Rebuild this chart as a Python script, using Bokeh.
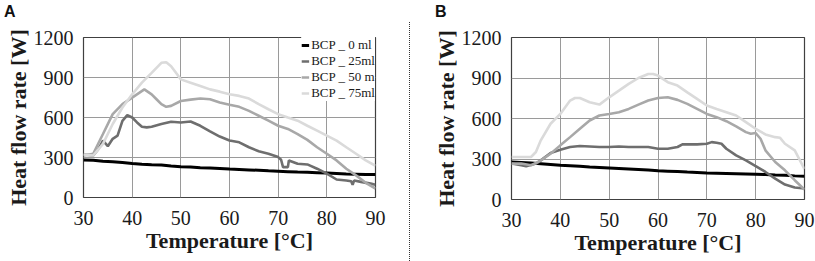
from bokeh.plotting import figure
from bokeh.layouts import row, column
from bokeh.models import Legend, LegendItem, FixedTicker, Div
from bokeh.embed import file_html
from bokeh.resources import INLINE

# ---------------- data ----------------
series_names = ["BCP _ 0 ml", "BCP _ 25ml", "BCP _ 50 m", "BCP _ 75ml"]
series_colors = ["#000000", "#6e6e6e", "#a8a8a8", "#dadada"]

# Panel A
a0_t = [30, 32, 34, 36, 38, 40, 42, 44, 46, 48, 50, 52, 54, 56, 58, 60, 62, 64, 66, 68, 70, 72, 74, 76, 78, 80, 82, 84, 86, 88, 90]
a0_w = [282, 280, 272, 268, 262, 255, 250, 246, 243, 236, 231, 228, 224, 221, 217, 213, 210, 207, 204, 200, 197, 194, 191, 189, 186, 183, 180, 177, 175, 172, 172]

a25_t = [30, 32, 33, 34, 35, 36, 37, 38, 39, 40, 41, 42, 43, 44, 46, 48, 50, 52, 54, 56, 58, 60, 62, 64, 66, 68, 70, 70.6, 71, 72, 72.2, 74, 76, 78, 80, 82, 84, 85, 85.3, 85.6, 87, 89, 90]
a25_w = [322, 315, 360, 427, 385, 440, 464, 575, 618, 600, 563, 531, 526, 531, 551, 568, 563, 570, 538, 496, 457, 427, 414, 377, 347, 328, 303, 283, 228, 228, 278, 253, 248, 216, 179, 135, 128, 122, 95, 127, 117, 104, 95]

a50_t = [30, 32, 34, 36, 38, 40, 42.5, 44, 45, 46, 47, 48, 50, 52, 54, 56, 58, 60, 62, 64, 66, 68, 70, 72, 74, 76, 78, 80, 82, 84, 86, 88, 90]
a50_w = [315, 328, 476, 625, 700, 749, 811, 774, 737, 700, 680, 687, 724, 734, 742, 737, 712, 695, 680, 650, 613, 576, 538, 514, 476, 432, 377, 328, 278, 216, 166, 110, 67]

a75_t = [30, 32, 34, 36, 38, 40, 42, 44, 46, 47, 48, 49, 50, 52, 54, 56, 58, 60, 62, 64, 66, 68, 70, 72, 74, 76, 78, 80, 82, 84, 86, 88, 90]
a75_w = [322, 315, 402, 551, 675, 774, 861, 935, 1010, 1015, 985, 935, 886, 861, 836, 811, 794, 774, 762, 742, 700, 662, 625, 600, 576, 538, 501, 464, 427, 377, 328, 278, 238]

# Panel B
b0_t = [30, 32, 34, 36, 38, 40, 42, 44, 46, 48, 50, 52, 54, 56, 58, 60, 62, 64, 66, 68, 70, 72, 74, 76, 78, 80, 82, 84, 86, 88, 90]
b0_w = [278, 275, 270, 265, 260, 253, 250, 246, 240, 237, 234, 230, 226, 222, 218, 213, 210, 207, 203, 200, 197, 195, 193, 191, 189, 187, 185, 182, 180, 175, 172]

b25_t = [30, 32, 33, 35, 36, 38, 40, 42, 44, 46, 48, 50, 52, 54, 56, 58, 60, 62, 64, 65, 68, 70, 71, 72, 73, 74, 76, 78, 80, 82, 84, 86, 88, 90]
b25_w = [266, 253, 246, 266, 290, 344, 369, 389, 396, 393, 389, 389, 393, 389, 389, 389, 376, 376, 389, 408, 408, 413, 425, 420, 413, 376, 327, 290, 248, 204, 155, 111, 89, 81]

b50_t = [30, 32, 34, 35, 36, 38, 40, 42, 44, 46, 48, 50, 52, 54, 56, 58, 60, 62, 64, 66, 68, 70, 72, 74, 76, 78, 79, 80, 81, 82, 84, 86, 88, 90]
b50_w = [266, 266, 253, 270, 290, 339, 401, 462, 524, 585, 622, 634, 647, 671, 703, 733, 752, 757, 738, 708, 671, 634, 610, 580, 541, 499, 487, 492, 450, 364, 278, 216, 143, 74]

b75_t = [30, 32, 34, 35, 36, 38, 40, 42, 43, 44, 46, 48, 50, 52, 54, 56, 58, 59, 60, 62, 64, 66, 68, 70, 72, 74, 76, 78, 80, 82, 84, 85, 86, 88, 90]
b75_w = [315, 315, 315, 352, 438, 561, 634, 733, 752, 752, 720, 703, 757, 806, 856, 900, 930, 930, 918, 869, 844, 794, 745, 696, 671, 647, 622, 573, 524, 482, 462, 457, 413, 364, 225]

x_ticks = [30, 40, 50, 60, 70, 80, 90]
y_ticks = [0, 300, 600, 900, 1200]

SERIF = "Liberation Serif"
HEAD = 20  # height of the strip holding the panel letters


def make_panel(width, border_left, border_right, border_bottom, data, with_legend):
    p = figure(width=width, height=261 - HEAD, x_range=(30, 90), y_range=(0, 1200),
               output_backend="svg", toolbar_location=None,
               min_border_left=border_left, min_border_right=border_right,
               min_border_top=37 - HEAD, min_border_bottom=border_bottom)
    p.background_fill_color = "white"
    p.border_fill_color = "white"
    p.outline_line_color = "#404040"
    p.outline_line_width = 1.2

    p.xaxis.ticker = FixedTicker(ticks=x_ticks)
    p.yaxis.ticker = FixedTicker(ticks=y_ticks)
    for ax in (p.xaxis[0], p.yaxis[0]):
        ax.axis_line_color = None
        ax.major_tick_line_color = None
        ax.minor_tick_line_color = None
        ax.major_tick_out = 0
        ax.major_tick_in = 0
        ax.minor_tick_out = 0
        ax.minor_tick_in = 0
        ax.major_label_text_font = SERIF
        ax.major_label_text_font_size = "20px"
        ax.major_label_text_color = "#1a1a1a"
        ax.axis_label_text_font = SERIF
        ax.axis_label_text_font_style = "bold"
        ax.axis_label_text_font_size = "22px"
        ax.axis_label_text_color = "#1a1a1a"
    p.xaxis.axis_label = "Temperature [°C]"
    p.yaxis.axis_label = "Heat flow rate [W]"
    p.xaxis.major_label_standoff = 13
    p.xaxis.axis_label_standoff = 0
    p.yaxis.major_label_standoff = 10
    p.yaxis.axis_label_standoff = 0

    p.xgrid.ticker = FixedTicker(ticks=x_ticks)
    p.ygrid.ticker = FixedTicker(ticks=y_ticks)
    p.grid.grid_line_color = "#9a9a9a"
    p.grid.grid_line_width = 1

    renderers = []
    for (t, w), name, col in zip(data, series_names, series_colors):
        lw = 3.0 if col == "#000000" else 2.6
        r = p.line(t, w, line_color=col, line_width=lw)
        renderers.append((name, r))

    if with_legend:
        items = [LegendItem(label=n, renderers=[r]) for n, r in renderers]
        leg = Legend(items=items, location="top_right")
        leg.label_text_font = SERIF
        leg.label_text_font_size = "13px"
        leg.label_text_color = "#1a1a1a"
        leg.label_height = 16
        leg.glyph_height = 16
        leg.glyph_width = 8
        leg.label_standoff = 2
        leg.spacing = 0
        leg.padding = 5
        leg.margin = 0
        leg.border_line_color = None
        leg.background_fill_color = "white"
        leg.background_fill_alpha = 1
        p.add_layout(leg, "center")
    return p


def letter_div(letter, width, left):
    html = ('<div style="position:relative;left:%dpx;top:4px;font-family:\'Liberation Sans\',Arial,sans-serif;'
            'font-weight:bold;font-size:16px;line-height:16px;color:#111111;">%s</div>' % (left, letter))
    return Div(text=html, width=width, height=HEAD, margin=0)


pa = make_panel(408, 83, 33, 64,
                [(a0_t, a0_w), (a25_t, a25_w), (a50_t, a50_w), (a75_t, a75_w)], True)
pb = make_panel(403, 99, 11, 62,
                [(b0_t, b0_w), (b25_t, b25_w), (b50_t, b50_w), (b75_t, b75_w)], False)

sep = Div(width=4, height=261, margin=0,
          text='<div style="margin:22px 0 0 1px;height:239px;border-left:1px dotted #333333;"></div>')

layout = row(column(letter_div("A", 408, 4), pa, spacing=0),
             sep,
             column(letter_div("B", 403, 23), pb, spacing=0))
open("out.html", "w").write(file_html(layout, INLINE))
